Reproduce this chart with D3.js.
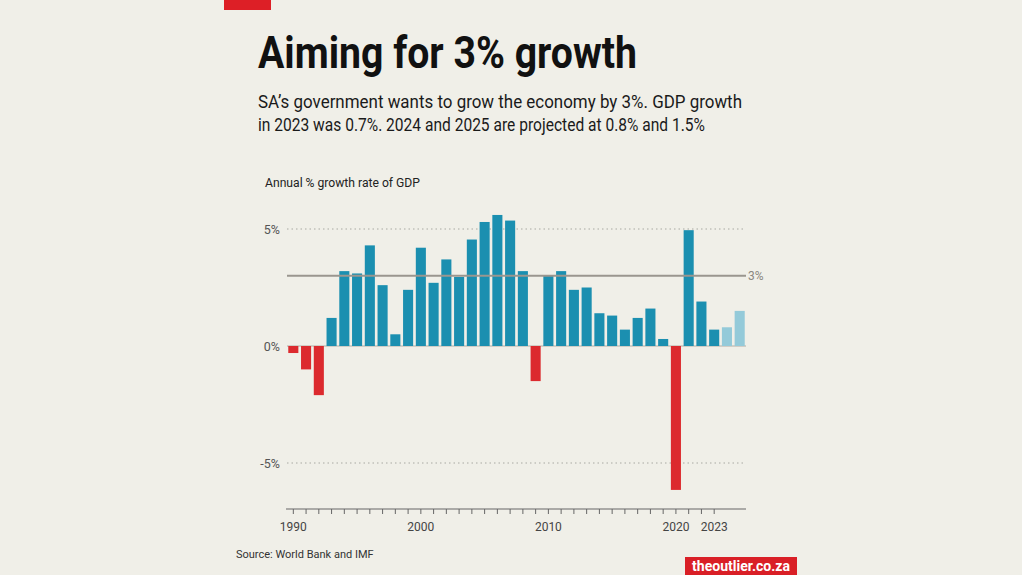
<!DOCTYPE html>
<html>
<head>
<meta charset="utf-8">
<script src="https://cdn.jsdelivr.net/npm/d3@7"></script>
<style>
  html, body { margin: 0; padding: 0; background: #f0efe8; }
  svg { display: block; }
</style>
</head>
<body>
<svg id="chart" width="1022" height="575"></svg>
<script>
const years = d3.range(1990, 2026);
const growth = [-0.3, -1.0, -2.1, 1.2, 3.2, 3.1, 4.3, 2.6, 0.5, 2.4,
                4.2, 2.7, 3.7, 2.95, 4.55, 5.3, 5.6, 5.36, 3.2, -1.5,
                3.0, 3.2, 2.4, 2.5, 1.4, 1.3, 0.7, 1.2, 1.6, 0.3,
                -6.15, 4.95, 1.9, 0.7, 0.8, 1.5];
const projectedYears = [2024, 2025];
const yTicks = [5, 0, -5];
const xLabelYears = [1990, 2000, 2010, 2020, 2023];
const target = 3;

const data = years.map((y, i) => ({ year: y, value: growth[i] }));

const svg = d3.select("#chart");
svg.append("rect").attr("width", 1022).attr("height", 575).attr("fill", "#f0efe8");

// top red accent
svg.append("rect").attr("x", 224).attr("y", 0).attr("width", 47).attr("height", 10).attr("fill", "#dd1f26");

// title
svg.append("text").attr("x", 258).attr("y", 68)
  .attr("font-family", "Roboto, sans-serif").attr("font-weight", 700)
  .attr("font-size", 45).attr("fill", "#111")
  .attr("textLength", 379).attr("lengthAdjust", "spacingAndGlyphs")
  .text("Aiming for 3% growth");

const sub = [
  ["SA\u2019s government wants to grow the economy by 3%. GDP growth", 484],
  ["in 2023 was 0.7%. 2024 and 2025 are projected at 0.8% and 1.5%", 447]
];
sub.forEach((s, i) => {
  svg.append("text").attr("x", 258).attr("y", 108 + i * 23)
    .attr("font-family", "Roboto, sans-serif").attr("font-size", 18.5).attr("fill", "#1a1a1a")
    .attr("textLength", s[1]).attr("lengthAdjust", "spacingAndGlyphs")
    .text(s[0]);
});

// axis title
svg.append("text").attr("x", 265).attr("y", 187)
  .attr("font-family", "Roboto, sans-serif").attr("font-size", 12.5).attr("fill", "#222")
  .attr("textLength", 155).attr("lengthAdjust", "spacingAndGlyphs")
  .text("Annual % growth rate of GDP");

const x = d3.scaleBand().domain(years).range([287, 746]).paddingInner(0.21).paddingOuter(0.1);
const y = d3.scaleLinear().domain([-5, 5]).range([463, 229]);
const left = 287, right = 746;

// gridlines at ±5 (dotted)
const g = svg.append("g");
g.selectAll("line.grid").data(yTicks.filter(d => d !== 0)).enter().append("line")
  .attr("x1", left).attr("x2", right)
  .attr("y1", d => y(d)).attr("y2", d => y(d))
  .attr("stroke", "#a8a8a2").attr("stroke-width", 1).attr("stroke-dasharray", "1.5,3");

// y tick labels
g.selectAll("text.yt").data(yTicks).enter().append("text")
  .attr("x", 280).attr("y", d => y(d) + 4.5).attr("text-anchor", "end")
  .attr("font-family", "Roboto, sans-serif").attr("font-size", 12.5).attr("fill", "#555")
  .text(d => d + "%");

// zero line
g.append("line").attr("x1", left).attr("x2", right).attr("y1", y(0)).attr("y2", y(0))
  .attr("stroke", "#b0aca4").attr("stroke-width", 1);

// bars
g.selectAll("rect.bar").data(data).enter().append("rect")
  .attr("x", d => x(d.year))
  .attr("width", x.bandwidth())
  .attr("y", d => d.value >= 0 ? y(d.value) : y(0))
  .attr("height", d => Math.abs(y(d.value) - y(0)))
  .attr("fill", d => d.value < 0 ? "#dc2a2e" : (projectedYears.includes(d.year) ? "#94cad9" : "#1b8fb0"));

// target line
g.append("line").attr("x1", left).attr("x2", right).attr("y1", y(target)).attr("y2", y(target))
  .attr("stroke", "#9a968f").attr("stroke-width", 2);
g.append("text").attr("x", 748).attr("y", y(target) + 4.5)
  .attr("font-family", "Roboto, sans-serif").attr("font-size", 12).attr("fill", "#8a8780")
  .text("3%");

// x axis
const axisY = 509;
g.append("line").attr("x1", left - 1).attr("x2", right).attr("y1", axisY).attr("y2", axisY)
  .attr("stroke", "#666").attr("stroke-width", 1.2);
const tickYears = years.filter(yr => yr <= 2023);
g.selectAll("line.tick").data(tickYears).enter().append("line")
  .attr("x1", d => x(d) + x.bandwidth() / 2).attr("x2", d => x(d) + x.bandwidth() / 2)
  .attr("y1", axisY).attr("y2", axisY + 5)
  .attr("stroke", "#666").attr("stroke-width", 1);
g.selectAll("text.xt").data(xLabelYears).enter().append("text")
  .attr("x", d => x(d) + x.bandwidth() / 2).attr("y", 531).attr("text-anchor", "middle")
  .attr("font-family", "Roboto, sans-serif").attr("font-size", 12).attr("fill", "#444")
  .text(d => d);

// source
svg.append("text").attr("x", 236).attr("y", 558)
  .attr("font-family", "Roboto, sans-serif").attr("font-size", 11).attr("fill", "#333")
  .text("Source: World Bank and IMF");

// logo
svg.append("rect").attr("x", 685).attr("y", 557).attr("width", 112).attr("height", 18).attr("fill", "#d91f26");
svg.append("text").attr("x", 741).attr("y", 571).attr("text-anchor", "middle")
  .attr("font-family", "Roboto, sans-serif").attr("font-weight", 700).attr("font-size", 14).attr("fill", "#fff")
  .attr("textLength", 98).attr("lengthAdjust", "spacingAndGlyphs")
  .text("theoutlier.co.za");
</script>
</body>
</html>
